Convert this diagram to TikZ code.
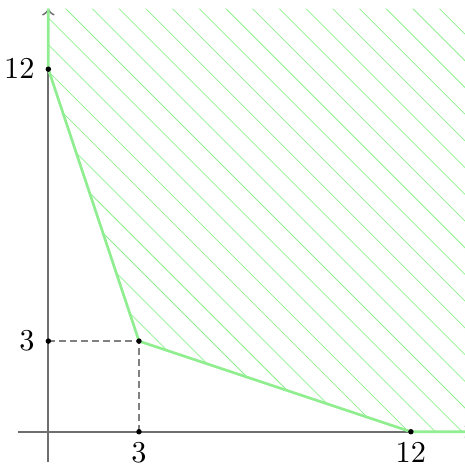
\documentclass[tikz,border=0pt]{standalone}
\usepackage{amsmath}
\usepackage{tikz}

\definecolor{lightgreen}{RGB}{144,238,144}
\definecolor{axisgray}{RGB}{110,110,110}

\begin{document}
\begin{tikzpicture}[x=0.35cm, y=0.35cm,
  axis/.style={axisgray, line width=0.6pt},
  guide/.style={gray, line width=0.6pt, dash pattern=on 2.3pt off 1.3pt},
  border/.style={lightgreen, line width=0.9pt},
  hatch/.style={lightgreen, line width=0.25pt},
  dot/.style={circle, fill=black, inner sep=0pt, minimum size=1.8pt}]
\useasboundingbox (-1.6,-1.2) rectangle (13.77,14.29);

\coordinate (O) at (0,0);
\coordinate (xstart) at (-1,0);
\coordinate (xend) at (14,0);
\coordinate (ystart) at (0,-1);
\coordinate (yend) at (0,14);
\coordinate (corner) at (14,14);
\coordinate (a) at (0,12);
\coordinate (p) at (3,3);
\coordinate (b) at (12,0);
\coordinate (px) at (3,0);
\coordinate (py) at (0,3);

% feasible region
\begin{scope}
\clip (yend) -- (a) -- (p) -- (b) -- (xend) -- (corner) -- cycle;
\foreach \k in {-8,...,25}
  \draw[hatch] ({8.62+0.884*\k},-2) -- ++(-18,18);
\end{scope}

\draw[axis,->] (xstart) -- (xend);
\draw[axis,->] (ystart) -- (yend);

\draw[guide] (py) -- (p);
\draw[guide] (px) -- (p);

\draw[border] (yend) -- (a) -- (p) -- (b) -- (xend);

\node[dot] (A) at (a) {};
\node[dot] (Py) at (py) {};
\node[dot] (P) at (p) {};
\node[dot] (Px) at (px) {};
\node[dot] (B) at (b) {};

\node[left=1pt] (la) at (a) {$12$};
\node[left=1pt] (lpy) at (py) {$3$};
\node[below] (lpx) at (px) {$3$};
\node[below] (lb) at (b) {$12$};
\end{tikzpicture}
\end{document}
